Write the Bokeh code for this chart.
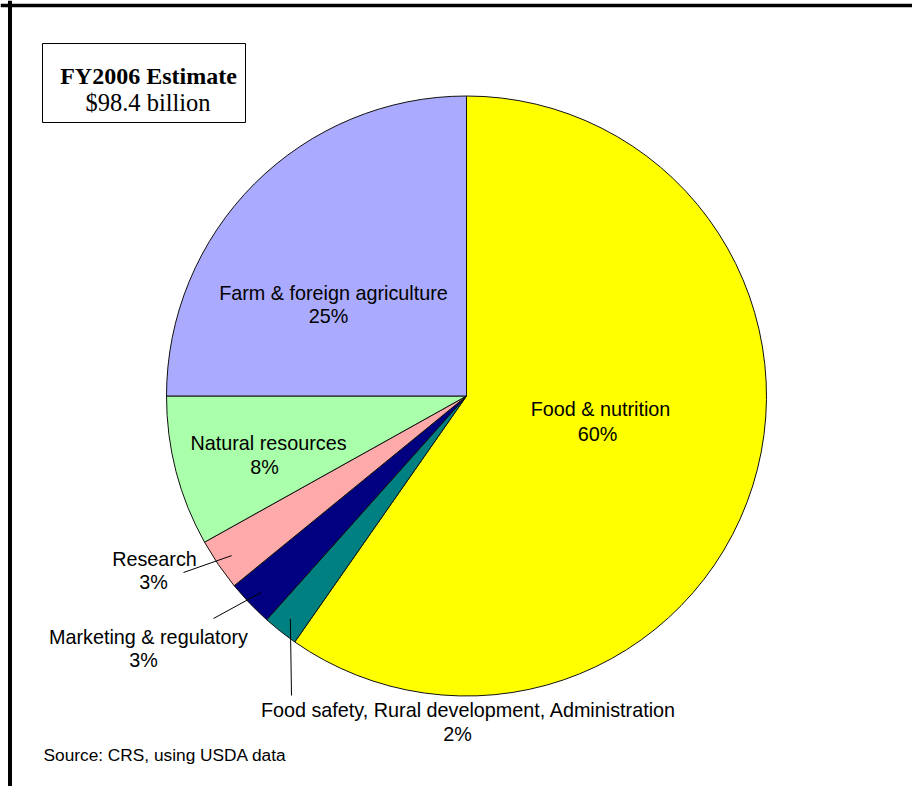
import numpy as np
from bokeh.plotting import figure
from bokeh.models import Range1d, Span, BoxAnnotation, ColumnDataSource
from bokeh.core.properties import value
from bokeh.embed import file_html
from bokeh.resources import INLINE

# ---- data (percent of FY2006 total, clockwise from 12 o'clock) ----
categories = ["Food & nutrition",
              "Food safety, Rural development, Administration",
              "Marketing & regulatory",
              "Research",
              "Natural resources",
              "Farm & foreign agriculture"]
shares = [59.7, 1.9, 2.5, 2.8, 8.1, 25.0]
pct_labels = ["60%", "2%", "3%", "3%", "8%", "25%"]
colors = ["#FFFF00", "#008080", "#000080", "#FFAAAA", "#AAFFAA", "#AAAAFF"]

title_line1 = "FY2006 Estimate"
title_line2 = "$98.4 billion"
source_note = "Source: CRS, using USDA data"

# ---- layout (screen pixel coordinates, y downward; converted below) ----
SCREEN_W, SCREEN_H = 912, 786
def sy(y):
    return SCREEN_H - y

cx, cy, R = 466, sy(395.5), 300

name_x = [600, 468, 148, 154, 268, 333]
name_y = [408, 709, 636, 558, 442, 292]
pct_x = [597, 457, 143, 153, 264, 328]
pct_y = [433, 733, 659, 581, 466, 315]

# leader-line outer ends for the small slices (index -> screen point)
leaders = {1: (291, 695), 2: (213, 618), 3: (183, 572)}

p = figure(width=SCREEN_W, height=SCREEN_H, x_range=Range1d(0, SCREEN_W),
           y_range=Range1d(0, SCREEN_H),
           output_backend="svg", toolbar_location=None, min_border=0,
           x_axis_type=None, y_axis_type=None)
p.grid.visible = False
p.outline_line_color = None
p.background_fill_color = "white"
p.border_fill_color = "white"

vals = np.array(shares, dtype=float)
frac = vals / vals.sum()
cum = np.concatenate([[0.0], np.cumsum(frac)])
start = np.pi / 2 - 2 * np.pi * cum[:-1]
end = np.pi / 2 - 2 * np.pi * cum[1:]
mid = (start + end) / 2

src = ColumnDataSource(dict(start=start, end=end, color=colors, cat=categories))
p.wedge(x=cx, y=cy, radius=R, start_angle="start", end_angle="end", direction="clock",
        fill_color="color", line_color="#111111", line_width=1, source=src)

# leader lines
lx0, ly0, lx1, ly1 = [], [], [], []
for i, (ox, oy) in leaders.items():
    lx0.append(cx + 284 * np.cos(mid[i]))
    ly0.append(cy + 284 * np.sin(mid[i]))
    lx1.append(ox)
    ly1.append(sy(oy))
p.segment(x0=lx0, y0=ly0, x1=lx1, y1=ly1, line_color="black", line_width=1)

# slice labels
font = value("Liberation Sans")
p.text(x=name_x, y=[sy(v) for v in name_y], text=categories, text_font=font,
       text_font_size="19.8px", text_align="center", text_baseline="alphabetic",
       text_color="black")
p.text(x=pct_x, y=[sy(v) for v in pct_y], text=pct_labels, text_font=font,
       text_font_size="19.8px", text_align="center", text_baseline="alphabetic",
       text_color="black")

# title box
p.add_layout(BoxAnnotation(left=42, right=245, top=sy(43), bottom=sy(122),
                           fill_color="white", fill_alpha=1.0,
                           line_color="black", line_alpha=1.0, line_width=1,
                           level="underlay"))
p.text(x=[148], y=[sy(75)], text=[title_line1], text_font=value("Liberation Serif"),
       text_font_size="24px", text_font_style="bold", text_align="center",
       text_baseline="alphabetic", text_color="black")
p.text(x=[147.5], y=[sy(102)], text=[title_line2], text_font=value("Liberation Serif"),
       text_font_size="24.5px", text_align="center", text_baseline="alphabetic",
       text_color="black")

# source note
p.text(x=[43], y=[sy(754)], text=[source_note], text_font=font, text_font_size="17.3px",
       text_align="left", text_baseline="alphabetic", text_color="black")

# frame lines
p.add_layout(Span(location=sy(5), dimension="width", line_color="black", line_width=3.5))
p.add_layout(Span(location=9.5, dimension="height", line_color="black", line_width=4))

open("out.html", "w").write(file_html(p, INLINE))
